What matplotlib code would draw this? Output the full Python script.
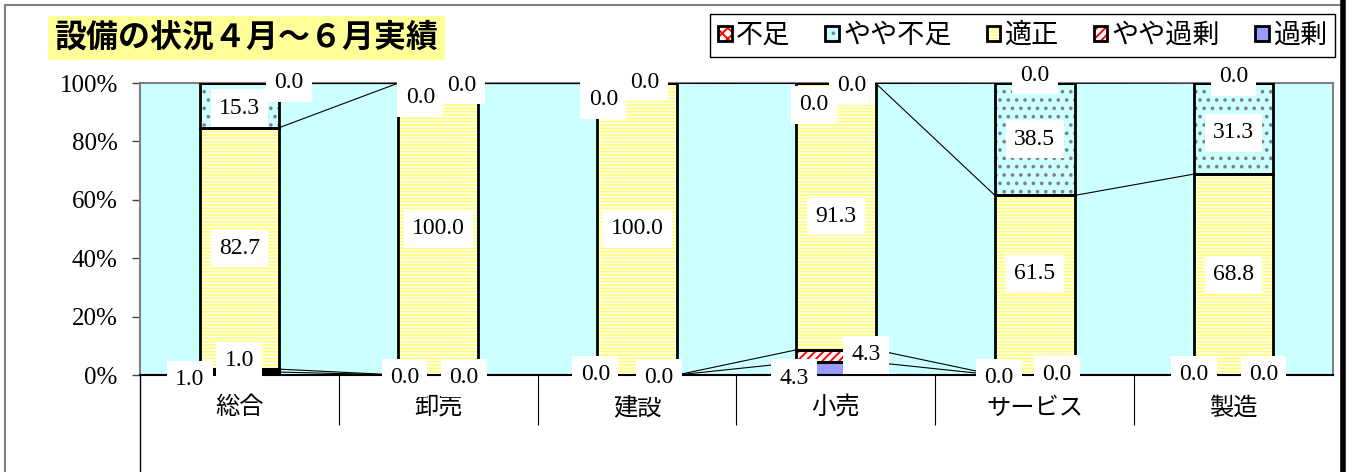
import numpy as np
import matplotlib
matplotlib.use('Agg')
import matplotlib.pyplot as plt
from matplotlib.patches import Patch
from matplotlib.lines import Line2D
from matplotlib.legend_handler import HandlerTuple

# ── Data ──────────────────────────────────────────────────────
categories = ['総合', '卸売', '建設', '小売', 'サービス', '製造']
series_names = ['過剰', 'やや過剰', '適正', 'やや不足', '不足']   # bottom -> top
kajo        = [1.0, 0.0, 0.0, 4.3, 0.0, 0.0]
yaya_kajo   = [1.0, 0.0, 0.0, 4.3, 0.0, 0.0]
tekisei     = [82.7, 100.0, 100.0, 91.3, 61.5, 68.8]
yaya_fusoku = [15.3, 0.0, 0.0, 0.0, 38.5, 31.3]
fusoku      = [0.0, 0.0, 0.0, 0.0, 0.0, 0.0]
values = [kajo, yaya_kajo, tekisei, yaya_fusoku, fusoku]

title = '設備の状況４月～６月実績'

# ── Styles ────────────────────────────────────────────────────
# (face, hatch, hatch colour)
styles = {
    '過剰':     ('#9999FF', None, '#9999FF'),
    'やや過剰': ('white', '////', 'red'),
    '適正':     ('white', '-----', '#FFFF80'),
    'やや不足': ('#CCFFFF', '..', '#808080'),
    '不足':     ('white', 'xxx', 'red'),
}
# label nudges (dx in category widths, dy in %) - Excel moved labels around
nudges = {
    '過剰':     [(-0.25, -2.2), (-0.17, -1.0), (-0.21, 0.0), (-0.21, -3.2), (-0.18, -1.0), (-0.20, 0.0)],
    'やや過剰': [(0.0, 3.3), (0.13, -1.0), (0.11, -1.0), (0.15, 0.4), (0.11, 0.3), (0.15, 0.0)],
    '適正':     [(0.0, 0.0), (0.0, 0.0), (0.0, 0.0), (0.0, 0.0), (0.0, 4.0), (0.0, 0.0)],
    'やや不足': [(0.0, -1.0), (-0.09, -5.1), (-0.17, -5.8), (-0.11, -7.4), (0.0, 0.0), (0.0, -1.5)],
    '不足':     [(0.25, 0.0), (0.12, -0.7), (0.04, 0.3), (0.08, -0.9), (0.0, 2.7), (0.0, 2.0)],
}

JP = ['Noto Sans CJK JP', 'DejaVu Sans']
SERIF = 'Liberation Serif'
plt.rcParams['hatch.linewidth'] = 1.4

W, H = 1352, 472
fig = plt.figure(figsize=(W / 100, H / 100), dpi=100)
ax = fig.add_axes([140 / W, (H - 375) / H, (1333 - 140) / W, (375 - 83) / H])
ax.set_facecolor('#CCFFFF')

x = np.arange(len(categories))
bw = 0.4
bottom = np.zeros(len(categories))
tops = []
for k, name in enumerate(series_names):
    v = np.array(values[k])
    face, hatch, hc = styles[name]
    ax.bar(x, v, bw, bottom=bottom, color=face, edgecolor=hc, linewidth=0,
           hatch=hatch, zorder=2)
    ax.bar(x, v, bw, bottom=bottom, fill=False, edgecolor='black',
           linewidth=2, zorder=3)
    # data labels
    for i in range(len(x)):
        dx, dy = nudges[name][i]
        ax.text(x[i] + dx, bottom[i] + v[i] / 2 + dy, f'{v[i]:.1f}',
                ha='center', va='center', fontsize=17, family=SERIF,
                zorder=10 + k, clip_on=False,
                bbox=dict(facecolor='white', edgecolor='none',
                          boxstyle='square,pad=0.35'))
    bottom = bottom + v
    tops.append(bottom.copy())

# series lines between neighbouring bars
for t in tops:
    for i in range(len(x) - 1):
        ax.plot([x[i] + bw / 2, x[i + 1] - bw / 2], [t[i], t[i + 1]],
                color='black', lw=0.8, zorder=4)

ax.set_xlim(-0.5, len(categories) - 0.5)
ax.set_ylim(0, 100)
ax.set_yticks(np.arange(0, 101, 20))
ax.set_yticklabels([f'{v}%' for v in range(0, 101, 20)], family=SERIF, fontsize=18)
ax.tick_params(axis='y', length=6, width=1, pad=10, color='#404040')

ax.set_xticks(x[:-1] + 0.5)
ax.set_xticklabels([])
ax.tick_params(axis='x', which='major', length=36, width=0.8, color='black')
ax.set_xticks(x, minor=True)
ax.set_xticklabels(categories, minor=True, family=JP, fontsize=17.5)
ax.tick_params(axis='x', which='minor', length=0, pad=14)

for s in ['top', 'right', 'left']:
    ax.spines[s].set_color('#808080')
    ax.spines[s].set_linewidth(1.5)
ax.spines['bottom'].set_color('black')
ax.spines['bottom'].set_linewidth(1.5)

# left axis line continues through the category band
fig.add_artist(Line2D([140 / W, 140 / W], [0, (H - 375) / H], color='black', lw=1))
# chart area frame
fig.add_artist(Line2D([5 / W, 1340 / W], [1 - 5 / H, 1 - 5 / H], color='#808080', lw=1.5))
fig.add_artist(Line2D([5 / W, 5 / W], [0, 1 - 5 / H], color='#808080', lw=1.5))
fig.add_artist(Line2D([1343 / W, 1343 / W], [0, 1], color='black', lw=4))

# title
fig.text((45 + 448) / 2 / W, 1 - 38 / H, title, ha='center', va='center',
         fontsize=23, fontweight='bold', family=JP,
         bbox=dict(facecolor='#FFFF99', edgecolor='none', boxstyle='square,pad=0.2'))

# legend (legend order is top series first)
handles = []
for name in series_names[::-1]:
    face, hatch, hc = styles[name]
    handles.append((Patch(facecolor=face, edgecolor=hc, hatch=hatch, linewidth=0),
                    Patch(facecolor='none', edgecolor='black', linewidth=2)))
leg = fig.legend(handles, series_names[::-1], handler_map={tuple: HandlerTuple(ndivide=1)},
                 loc='upper right', bbox_to_anchor=(1335 / W, 1 - 14 / H), ncol=5,
                 prop={'family': JP, 'size': 19.5}, handlelength=0.5, handleheight=0.5,
                 handletextpad=0.15, columnspacing=1.3, fancybox=False,
                 borderpad=0.3, borderaxespad=0, framealpha=1)
leg.get_frame().set_edgecolor('black')
leg.get_frame().set_linewidth(1)

fig.savefig('out.png', dpi=100)
